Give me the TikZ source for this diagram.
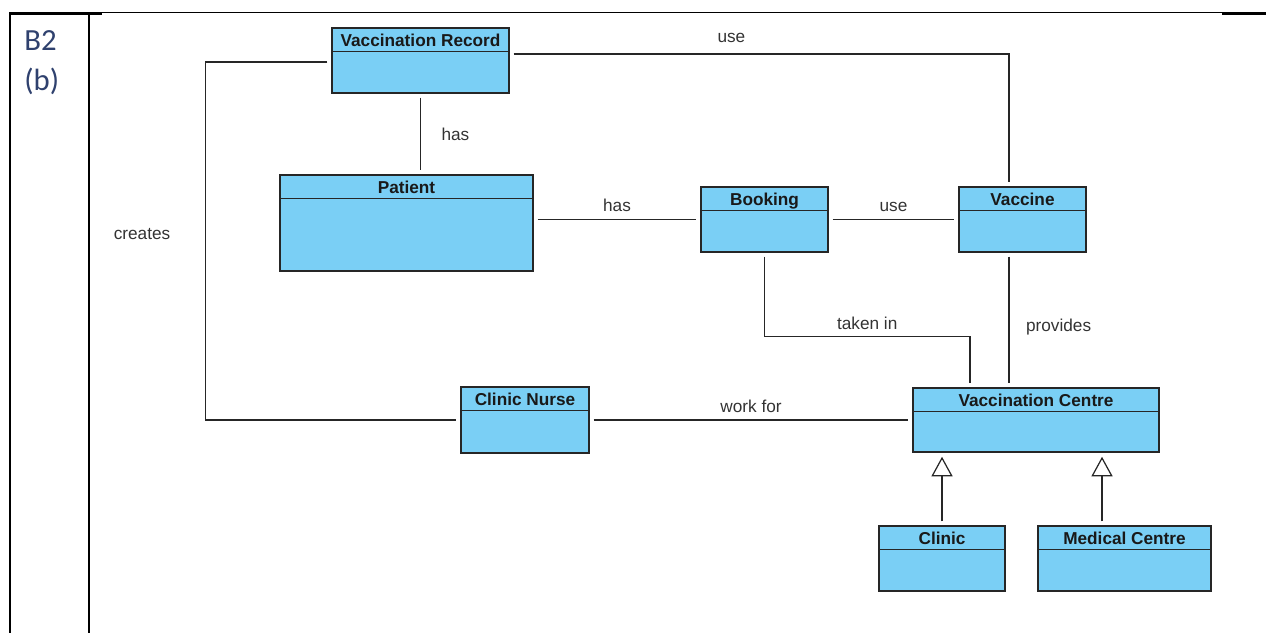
\documentclass[tikz,border=0pt]{standalone}
\usepackage{fontspec}
\newfontfamily\umlfont{Liberation Sans}
\newfontfamily\tagfont{Carlito}
\usepackage{xcolor}
\usepackage{tikz}
\usetikzlibrary{
  arrows.meta,
  positioning,
  calc
}
\definecolor{classblue}{RGB}{122, 207, 245}
\definecolor{tagblue}{RGB}{47, 65, 110}

\tikzset{
  classbox/.style={draw=black!85, fill=classblue, line width=0.85pt, inner sep=0pt},
  classtitle/.style={font=\umlfont\bfseries\fontsize{9.8}{11}\selectfont, text=black!90,
                     anchor=base, inner sep=0pt},
  classline/.style={draw=black!85, line width=0.85pt},
  assoc/.style={draw=black!85, line width=0.6pt, shorten <=0.08cm, shorten >=0.08cm},
  inherit/.style={assoc, -{Triangle[open, length=0.39cm, width=0.42cm, fill=white, line width=0.7pt]}},
  rolelabel/.style={font=\umlfont\fontsize{9.8}{11}\selectfont, text=black!80, inner sep=0pt},
  tagtext/.style={font=\tagfont\fontsize{17.5}{20}\selectfont, text=tagblue, inner sep=0pt,
                  anchor=base west},
  frameline/.style={draw=black, line width=1.15pt}
}

\begin{document}
\begin{tikzpicture}[x=0.02cm, y=-0.02cm]
\useasboundingbox (0,0) rectangle (1266,633);

% table frame
\draw[frameline] (10,13) -- (10,633);
\draw[frameline] (89,13) -- (89,633);
\draw[frameline] (9.4,13.5) -- (102,13.5);
\draw[draw=black, line width=0.6pt] (102,12.8) -- (1222,12.8);
\draw[frameline] (1222,13.5) -- (1266,13.5);
\node (btag) [tagtext] at (24,50) {B2};
\node (bsub) [tagtext] at ($(btag.base west)+(0,40)$) {(b)};

% classes
\node (vr) [classbox, minimum width=3.54cm, minimum height=1.30cm] at (420.5,60.5) {};
\node (patient) [classbox, minimum width=5.06cm, minimum height=1.92cm] at (406.5,223) {};
\node (booking) [classbox, minimum width=2.54cm, minimum height=1.30cm] at (764.5,219.5) {};
\node (vaccine) [classbox, minimum width=2.54cm, minimum height=1.30cm] at (1022.5,219.5) {};
\node (nurse) [classbox, minimum width=2.56cm, minimum height=1.32cm] at (525,420) {};
\node (centre) [classbox, minimum width=4.92cm, minimum height=1.28cm] at (1036,420) {};
\node (clinic) [classbox, minimum width=2.52cm, minimum height=1.30cm] at (942,558.5) {};
\node (medical) [classbox, minimum width=3.46cm, minimum height=1.30cm] at (1124.5,558.5) {};

\foreach \n/\t in {vr/Vaccination Record, patient/Patient, booking/Booking,
                   vaccine/Vaccine, nurse/Clinic Nurse, centre/Vaccination Centre,
                   clinic/Clinic, medical/Medical Centre} {
  \node (\n-title) [classtitle] at ($(\n.north)+(0,19)$) {\t};
  \draw[classline] ($(\n.north west)+(0,24)$) -- ($(\n.north east)+(0,24)$);
}

% associations
\draw[assoc] ($(vr.east)+(0,-6.5)$) -| node[rolelabel, pos=0.222, above=0.22cm] {use}
  ($(vaccine.north)+(-13.5,0)$);
\draw[assoc] (vr.south) -- node[rolelabel, midway, right=0.41cm] {has} (vr.south |- patient.north);
\draw[assoc] (booking.west -| patient.east) -- node[rolelabel, midway, above=0.14cm] {has} (booking.west);
\draw[assoc] (booking.east) -- node[rolelabel, midway, above=0.14cm] {use} (vaccine.west);
\draw[assoc] (booking.south) -- ++(0,84) -| node[rolelabel, pos=0.25, above=0.14cm] {taken in}
  ($(centre.north)+(-66,0)$);
\draw[assoc] ($(vaccine.south)+(-13.5,0)$) -- node[rolelabel, pos=0.55, right=0.33cm] {provides}
  ($(centre.north)+(-27,0)$);
\draw[assoc] ($(vr.west)+(0,1.5)$) -- ++(-126,0) |- node[rolelabel, pos=0.24, left=0.69cm] {creates}
  (nurse.west);
\draw[assoc] (nurse.east) -- node[rolelabel, midway, above=0.14cm] {work for} (centre.west);

% generalisations
\coordinate (medtop) at ($(medical.north)+(-22.5,0)$);
\draw[inherit] (clinic.north) -- (clinic.north |- centre.south);
\draw[inherit] (medtop) -- (medtop |- centre.south);
\end{tikzpicture}
\end{document}
